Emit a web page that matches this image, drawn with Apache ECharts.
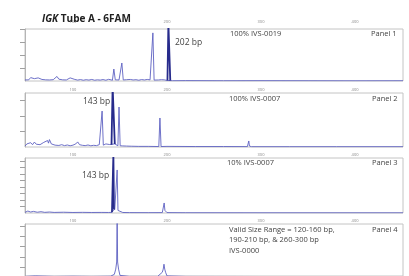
<!DOCTYPE html>
<html lang="en">
<head>
<meta charset="UTF-8">
<title>IGK Tube A - 6FAM</title>
<script src="https://cdn.jsdelivr.net/npm/echarts@6/dist/echarts.min.js"></script>
<style>
    html, body { margin: 0; padding: 0; background: #fff; }
    #main { width: 409px; height: 276px; }
</style>
</head>
<body>
<div id="main"></div>
<script type="text/javascript">
// size ticks (bp) on the top axis of every panel
var bpTicks = [100, 200, 300, 400];

// panel 1 - 100% IVS-0019 : trace [bp, rfu] and the dark 202 bp peak
var trace1 = [[49,80],[51,150],[53,90],[55,260],[57,110],[59,180],[61,90],[63,240],[65,300],[67,120],[69,200],[71,90],[73,130],[75,80],[77,150],[79,100],[81,220],[83,350],[85,140],[87,210],[89,90],[91,130],[93,80],[95,170],[97,240],[99,90],[102,120],[105,70],[108,110],[111,60],[114,100],[117,70],[120,120],[123,60],[126,90],[129,70],[132,110],[135,60],[138,130],[140,80],[142,60],[143.5,920],[145,90],[147,140],[149,80],[150.5,60],[152,1385],[153.5,80],[155,180],[157,100],[159,60],[161,120],[164,80],[167,100],[170,60],[173,110],[176,80],[179,120],[182,90],[183.7,60],[185,3700],[186.3,70],[188,120],[191,80],[194,100],[197,90],[199,60],[200.5,40],[203.5,30],[206,20],[220,30],[260,20],[300,25],[350,20],[400,15],[451,20]];
var main1 = [[200.5,40],[201.5,4400],[202.3,4400],[203.5,30]];

// panel 2 - 100% IVS-0007
var trace2 = [[49,60],[51,200],[53,120],[55,280],[57,150],[59,320],[61,180],[63,260],[65,150],[67,240],[69,300],[71,200],[73,420],[74,250],[75,480],[77,200],[79,260],[81,120],[83,180],[85,100],[88,150],[91,90],[94,130],[97,80],[100,120],[103,200],[105,330],[107,150],[110,110],[113,90],[116,130],[119,80],[122,110],[125,90],[128,150],[129.7,100],[131,2330],[132.3,120],[135,200],[137,280],[139,160],[141,150],[144.5,200],[146,160],[147.8,80],[149,2590],[150.2,80],[153,70],[157,60],[162,50],[170,40],[180,40],[191.3,30],[192.5,1880],[193.7,30],[200,40],[230,30],[260,30],[285.5,25],[286.3,60],[287,390],[287.7,60],[290,20],[330,20],[380,20],[451,20]];
var main2 = [[141,150],[142.2,3900],[143.4,3900],[144.5,200]];

// panel 3 - 10% IVS-0007
var trace3 = [[49,100],[52,300],[55,150],[58,250],[62,120],[66,200],[70,100],[75,150],[80,90],[90,120],[100,80],[110,100],[120,80],[130,90],[138,80],[141.5,100],[144.5,700],[145.5,800],[146.2,500],[147,6650],[147.9,400],[149,250],[150,150],[153,80],[160,60],[180,50],[195,60],[196.2,300],[197,1550],[197.8,400],[200,60],[220,40],[300,30],[451,30]];
var main3 = [[141.5,100],[142.4,300],[143,9000],[143.6,600],[144.5,700]];

// panel 4 - valid size range / IVS-0000 (baseline runs off the page)
var trace4 = [[49,100],[60,150],[80,100],[100,120],[120,100],[140,120],[144,300],[145.5,810],[146.5,1500],[147,6000],[147.5,1500],[148.5,810],[150,200],[160,100],[190,100],[195,500],[196,810],[196.8,1285],[197.6,810],[198.5,500],[200,150],[220,100],[300,90],[451,80]];

var yTicks = [[1000,2000,3000,4000], [1000,2000,3000], [1000,2000,3000,4000,5000,6000,7000,8000], [1000,2000,3000,4000,5000]];
var yMin = [0, 0, 0, 140];
var yMax = [4000, 3500, 8500, 5190];

var panelTops = [29, 93, 158, 224];
var panelHeights = [52, 54, 55, 53];
var traces = [trace1, trace2, trace3, trace4];
var mains = [main1, main2, main3, null];

var font = '"Open Sans", "Noto Sans", sans-serif';
var grids = [], xAxes = [], yAxes = [], series = [];

for (var i = 0; i < 4; i++) {
    grids.push({
        left: 25, right: 6, top: panelTops[i], height: panelHeights[i],
        show: true, borderColor: '#c4c4c4', borderWidth: 1
    });
    xAxes.push({
        gridIndex: i, type: 'value', position: 'top', min: 49, max: 451,
        axisLine: { show: false },
        axisTick: { show: false },
        splitLine: { show: false },
        axisLabel: {
            customValues: bpTicks, fontSize: 4, color: '#888',
            margin: i === 0 ? 5 : 1, fontFamily: font
        }
    });
    yAxes.push({
        gridIndex: i, type: 'value', min: yMin[i], max: yMax[i],
        axisLine: { show: true, lineStyle: { color: '#b5b5b5' } },
        axisTick: { show: true, length: 5, customValues: yTicks[i], lineStyle: { color: '#a0a0a0' } },
        axisLabel: { show: false },
        splitLine: { show: false }
    });
    series.push({
        type: 'line', xAxisIndex: i, yAxisIndex: i, data: traces[i],
        showSymbol: false, animation: false,
        lineStyle: { color: '#5d61c2', width: 0.9 }
    });
    if (mains[i]) {
        series.push({
            type: 'line', xAxisIndex: i, yAxisIndex: i, data: mains[i],
            showSymbol: false, animation: false,
            lineStyle: { color: '#272b8c', width: 1.8 }
        });
    }
}

function note(x, y, txt, size) {
    return {
        type: 'text', x: x, y: y,
        style: {
            text: txt, fill: '#444', verticalAlign: 'middle',
            font: (size || 7.5) + 'px ' + font
        }
    };
}

var chart = echarts.init(document.getElementById('main'));
chart.setOption({
    animation: false,
    title: {
        left: 37, top: 9,
        text: '{i|IGK}{b| Tube A - 6FAM}',
        textStyle: {
            rich: {
                i: { fontSize: 10, fontWeight: 'bold', fontStyle: 'italic', fontFamily: font, color: '#222' },
                b: { fontSize: 10, fontWeight: 'bold', fontFamily: font, color: '#222' }
            }
        }
    },
    grid: grids,
    xAxis: xAxes,
    yAxis: yAxes,
    series: series,
    graphic: [
        note(175, 43, '202 bp', 8.5),
        note(83, 102, '143 bp', 8.5),
        note(82, 176, '143 bp', 8.5),
        note(230, 34, '100% IVS-0019'),
        note(371, 34, 'Panel 1'),
        note(229, 99, '100% IVS-0007'),
        note(372, 99, 'Panel 2'),
        note(227, 163, '10% IVS-0007'),
        note(372, 163, 'Panel 3'),
        note(229, 230, 'Valid Size Range = 120-160 bp,'),
        note(229, 240, '190-210 bp, & 260-300 bp'),
        note(229, 251, 'IVS-0000'),
        note(372, 230, 'Panel 4')
    ]
});
</script>
</body>
</html>
